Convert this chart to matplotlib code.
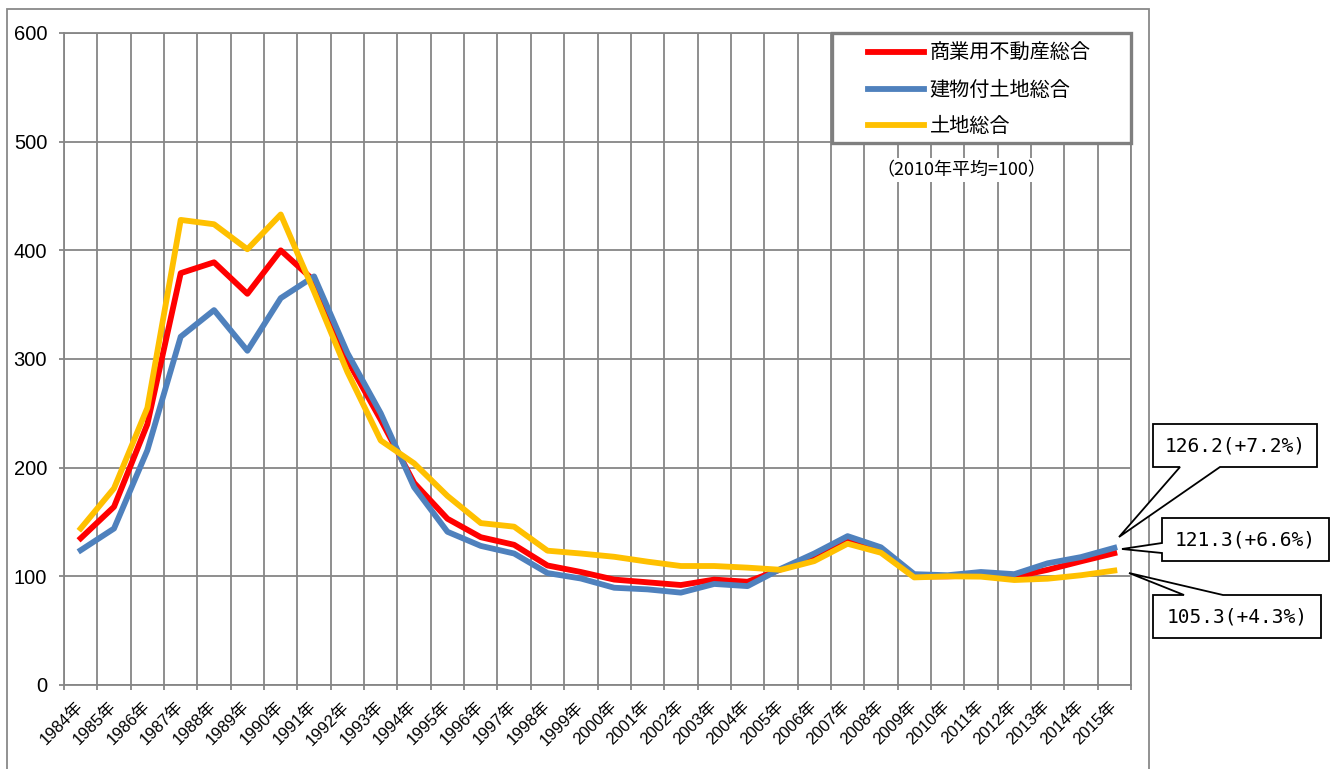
import numpy as np
import matplotlib
matplotlib.use('Agg')
import matplotlib.pyplot as plt
from matplotlib.patches import Polygon, Rectangle

plt.rcParams['font.family'] = ['Liberation Sans', 'Noto Sans CJK JP']

# --- データ ---
years = [f"{y}年" for y in range(1984, 2016)]
series_names = ['商業用不動産総合', '建物付土地総合', '土地総合']
commercial = [135, 164, 240, 379, 389, 360, 400, 372, 299, 244, 186, 153, 136, 129, 110, 104,
              97, 94.5, 92, 97, 95, 106.5, 118, 133.5, 124, 100, 100, 101, 99.5, 106, 113.8, 121.3]
building = [124, 144, 216, 320.5, 345, 307.6, 356, 376, 305.5, 250, 182, 141, 128, 121, 103, 98,
            89.5, 88, 85, 93, 91, 107, 121, 137, 126.7, 102, 101, 104, 102, 112, 117.7, 126.2]
land = [144, 181, 255, 428, 424, 401, 433, 362, 288, 225, 204, 174, 149, 145.7, 123.6, 121,
        118, 113.5, 109.5, 109.5, 108, 106, 114, 130, 121.7, 99, 100, 99.7, 96.6, 97.8, 101, 105.3]
last_change = [6.6, 7.2, 4.3]  # 前年比(%)  商業用, 建物付, 土地
colors = ['#FF0000', '#4F81BD', '#FFC000']
note = '（2010年平均=100）'

W, H = 1330, 769


def fx(px):
    return px / W


def fy(py):
    return 1 - py / H


fig = plt.figure(figsize=(W / 100, H / 100), dpi=100)
ax = fig.add_axes([fx(64), fy(685), (1131 - 64) / W, (685 - 33) / H])

x = np.arange(len(years))
for vals, name, c in zip([commercial, building, land], series_names, colors):
    ax.plot(x, vals, color=c, lw=4.2, label=name, zorder=3)

grid_c = '#868686'
ax.set_xlim(-0.5, len(years) - 0.5)
ax.set_ylim(0, 600)
ax.set_yticks(range(0, 601, 100))
ax.set_xticks(x)
ax.set_xticklabels(years, rotation=45, ha='right', va='center', rotation_mode='anchor', fontsize=12)
ax.set_xticks(np.arange(-0.5, len(years), 1), minor=True)
ax.set_axisbelow(True)
ax.grid(which='minor', axis='x', color=grid_c, lw=1.3)
ax.grid(which='major', axis='y', color=grid_c, lw=1.3)
ax.tick_params(axis='x', which='major', length=0, pad=14)
ax.tick_params(axis='x', which='minor', length=3.6, width=1.3, color=grid_c)
ax.tick_params(axis='y', length=3.6, width=1.3, color=grid_c, labelsize=14.5, pad=8.5)
for s in ax.spines.values():
    s.set_color(grid_c)
    s.set_linewidth(1.3)

# 凡例
ax.add_patch(Rectangle((fx(832), fy(143)), 299 / W, 110 / H, transform=fig.transFigure,
                       fc='white', ec='#7f7f7f', lw=2.4, zorder=4, clip_on=False))
leg = ax.legend(loc='upper left', bbox_to_anchor=(fx(858), fy(33)), bbox_transform=fig.transFigure,
                frameon=False, borderpad=0, handlelength=2.8, handletextpad=0.25, labelspacing=0.78,
                prop={'family': ['Noto Sans CJK JP'], 'size': 14.5})
leg.set_zorder(5)

ax.text(fx(961), fy(170), note, transform=fig.transFigure, ha='center', va='center',
        fontsize=13, family=['Noto Sans CJK JP'], zorder=4,
        bbox=dict(fc='white', ec='none', pad=2))

# 外枠
fig.add_artist(Rectangle((fx(7), fy(772)), (1149 - 7) / W, (772 - 9) / H, transform=fig.transFigure,
                         fill=False, ec='#898989', lw=1.3))

# 吹き出し
callouts = [
    (building[-1], last_change[1], [(1153, 424), (1317, 424), (1317, 467), (1220, 467), (1119, 537),
                                    (1180, 467), (1153, 467)], (1235, 446)),
    (commercial[-1], last_change[0], [(1162, 518), (1329, 518), (1329, 561), (1162, 561), (1162, 553),
                                      (1122, 549), (1162, 543)], (1245, 540)),
    (land[-1], last_change[2], [(1153, 595), (1184, 595), (1129, 573), (1223, 595), (1321, 595),
                                (1321, 638), (1153, 638)], (1237, 617)),
]
for val, chg, pts, (tx, ty) in callouts:
    fig.add_artist(Polygon([(fx(a), fy(b)) for a, b in pts], closed=True, transform=fig.transFigure,
                           fc='white', ec='black', lw=1.3))
    fig.text(fx(tx), fy(ty), f"{val:.1f}(+{chg:.1f}%)", ha='center', va='center',
             fontsize=14, family='DejaVu Sans Mono')

fig.savefig('out.png', dpi=100)
